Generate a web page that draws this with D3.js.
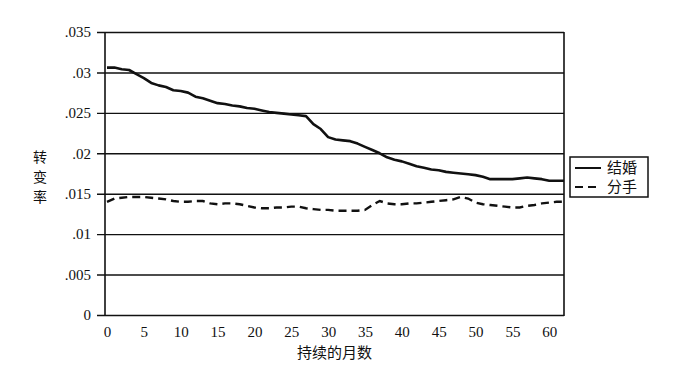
<!DOCTYPE html>
<html>
<head>
<meta charset="utf-8">
<script src="https://cdn.jsdelivr.net/npm/d3@7"></script>
<style>
  body { margin: 0; background: #fff; }
  svg { display: block; }
  .cjk { font-family: "Noto Sans CJK SC", sans-serif; fill: #111; }
  .num { font-family: "Liberation Serif", "Times New Roman", Times, serif; font-size: 15px; fill: #111; }
</style>
</head>
<body>
<svg width="690" height="372"></svg>
<script>
// months 0..62
const months = d3.range(0, 63);
const marriage = [
  .0306, .0306, .0304, .0303, .0298, .0293, .0287, .0284, .0282, .0278,
  .0277, .0275, .0270, .0268, .0265, .0262, .0261, .0259, .0258, .0256,
  .0255, .0253, .0251, .0250, .0249, .0248, .0247, .0246, .0236, .0230,
  .0220, .0217, .0216, .0215, .0212, .0208, .0204, .0200, .0195, .0192,
  .0190, .0187, .0184, .0182, .0180, .0179, .0177, .0176, .0175, .0174,
  .0173, .0171, .0168, .0168, .0168, .0168, .0169, .0170, .0169, .0168,
  .0166, .0166, .0166
];
const breakup = [
  .0140, .0144, .0145, .0146, .0146, .0146, .0145, .0144, .0143, .0141,
  .0140, .0140, .0141, .0141, .0138, .0137, .0138, .0138, .0137, .0135,
  .0133, .0132, .0132, .0133, .0133, .0134, .0134, .0132, .0131, .0130,
  .0130, .0129, .0129, .0129, .0129, .0130, .0136, .0141, .0138, .0137,
  .0137, .0138, .0138, .0139, .0140, .0141, .0142, .0143, .0146, .0144,
  .0139, .0137, .0136, .0135, .0134, .0133, .0133, .0135, .0136, .0138,
  .0139, .0140, .0140
];
const yTicks = [0, .005, .01, .015, .02, .025, .03, .035];
const yTickLabels = ["0", ".005", ".01", ".015", ".02", ".025", ".03", ".035"];
const xTicks = d3.range(0, 61, 5);
const seriesNames = ["结婚", "分手"];
const yTitle = ["转", "变", "率"];
const xTitle = "持续的月数";

const svg = d3.select("svg");
const plotL = 105, plotR = 564, plotT = 32, plotB = 315;

const x = d3.scaleLinear().domain([0, 62]).range([plotL + 2, plotR]);
const y = d3.scaleLinear().domain([0, .035]).range([plotB, plotT]);

// horizontal gridlines with ticks sticking out on the left
svg.append("g")
  .attr("transform", `translate(${plotL},0)`)
  .call(d3.axisLeft(y).tickValues(yTicks)
    .tickFormat((d, i) => yTickLabels[i])
    .tickSize(-(plotR - plotL)).tickPadding(14))
  .call(g => g.select(".domain").remove())
  .call(g => g.selectAll(".tick text").attr("class", "num"))
  .call(g => g.selectAll(".tick line")
    .attr("x1", -8).attr("stroke", "#111").attr("stroke-width", 1.4));

// x axis labels
svg.append("g")
  .attr("transform", `translate(0,${plotB})`)
  .call(d3.axisBottom(x).tickValues(xTicks).tickSize(0).tickPadding(11))
  .call(g => g.selectAll(".tick text").attr("class", "num"))
  .call(g => g.select(".domain").remove());

// frame: left axis and right edge
svg.append("line").attr("x1", plotL).attr("x2", plotL).attr("y1", plotT).attr("y2", plotB + 1)
  .attr("stroke", "#111").attr("stroke-width", 1.6);
svg.append("line").attr("x1", plotR).attr("x2", plotR).attr("y1", plotT).attr("y2", plotB + 1)
  .attr("stroke", "#111").attr("stroke-width", 1.6);

const line = d3.line().x((d, i) => x(months[i])).y(d => y(d));

svg.append("path").datum(marriage)
  .attr("d", line).attr("fill", "none")
  .attr("stroke", "#111").attr("stroke-width", 2.6).attr("stroke-linejoin", "round");

svg.append("path").datum(breakup)
  .attr("d", line).attr("fill", "none")
  .attr("stroke", "#111").attr("stroke-width", 2.4)
  .attr("stroke-dasharray", "8,5");

// y title, stacked characters
svg.append("g").selectAll("text").data(yTitle).join("text")
  .attr("class", "cjk")
  .attr("x", 40).attr("y", (d, i) => 162 + i * 20)
  .attr("text-anchor", "middle").attr("font-size", 14)
  .text(d => d);

// x title
svg.append("text").attr("class", "cjk")
  .attr("x", (plotL + plotR) / 2).attr("y", 358)
  .attr("text-anchor", "middle").attr("font-size", 15)
  .text(xTitle);

// legend
const lg = svg.append("g").attr("transform", "translate(570,157)");
lg.append("rect").attr("width", 78).attr("height", 40)
  .attr("fill", "#fff").attr("stroke", "#111").attr("stroke-width", 1.5);
const dashes = [null, "8,5"];
seriesNames.forEach((name, i) => {
  const cy = 11 + i * 19;
  lg.append("line").attr("x1", 5).attr("x2", 31).attr("y1", cy).attr("y2", cy)
    .attr("stroke", "#111").attr("stroke-width", 2)
    .attr("stroke-dasharray", dashes[i]);
  lg.append("text").attr("class", "cjk")
    .attr("x", 37).attr("y", cy + 5).attr("font-size", 15)
    .text(name);
});
</script>
</body>
</html>
